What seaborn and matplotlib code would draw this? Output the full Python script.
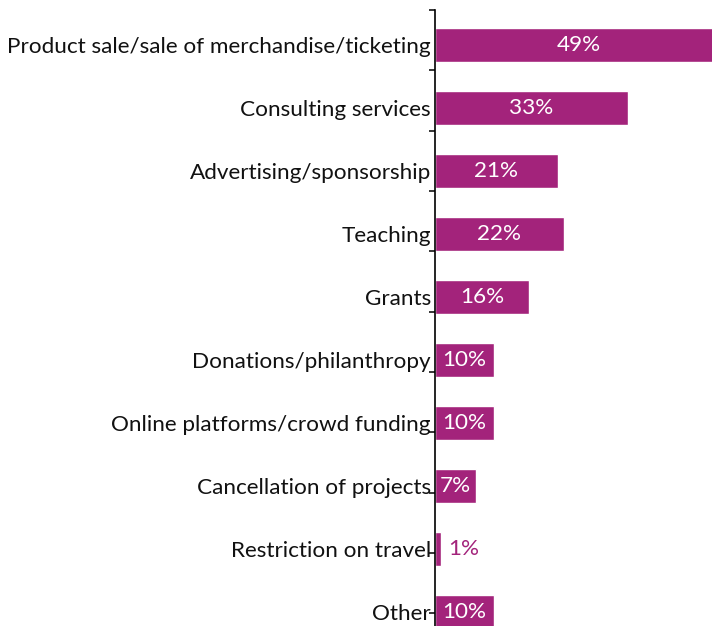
import matplotlib
matplotlib.use("Agg")
import matplotlib.pyplot as plt
import seaborn as sns
import pandas as pd
import numpy as np
from matplotlib.ticker import FixedLocator

categories = [
    "Product sale/sale of merchandise/ticketing",
    "Consulting services",
    "Advertising/sponsorship",
    "Teaching",
    "Grants",
    "Donations/philanthropy",
    "Online platforms/crowd funding",
    "Cancellation of projects",
    "Restriction on travel",
    "Other",
]
values = [49, 33, 21, 22, 16, 10, 10, 7, 1, 10]

BAR = "#a3237b"
FONT = "Lato"
FS = 16.2

sns.set_theme(style="white")
plt.rcParams["font.family"] = [FONT, "DejaVu Sans"]

df = pd.DataFrame({"cat": categories, "val": values})

fig = plt.figure(figsize=(7.12, 6.26), dpi=100)
ax = fig.add_axes([435 / 712, 0, 1 - 435 / 712, (626 - 10) / 626])
sns.barplot(data=df, y="cat", x="val", orient="h", color=BAR, saturation=1,
            width=0.54, ax=ax)

ax.set_xlim(0, 47.35)
ax.set_ylim(9.22, -0.556)
ax.set_xlabel("")
ax.set_ylabel("")
ax.set_xticks([])
for s in ["top", "right", "bottom"]:
    ax.spines[s].set_visible(False)
ax.spines["left"].set_color("black")
ax.spines["left"].set_linewidth(1.2)
ax.tick_params(axis="y", which="major", length=0, pad=3, labelsize=FS,
               labelcolor="#111111")
ax.yaxis.set_minor_locator(FixedLocator(list(np.linspace(-0.556, 9.016, 11))))
ax.tick_params(axis="y", which="minor", left=True, length=4, width=1.1,
               color="black")

for i, v in enumerate(values):
    if v >= 5:
        ax.text(v / 2, i, f"{v}%", ha="center", va="center", color="white",
                fontsize=FS, clip_on=True)
    else:
        ax.text(v + 1.2, i, f"{v}%", ha="left", va="center", color=BAR,
                fontsize=FS)

fig.savefig("out.png", dpi=100)
